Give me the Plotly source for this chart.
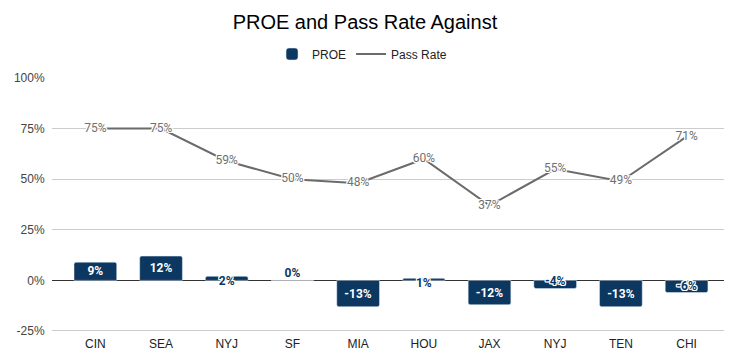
import plotly.graph_objects as go

teams = ["CIN", "SEA", "NYJ", "SF", "MIA", "HOU", "JAX", "NYJ", "TEN", "CHI"]
proe = [9, 12, 2, 0, -13, 1, -12, -4, -13, -6]
pass_rate = [75, 75, 59, 50, 48, 60, 37, 55, 49, 71]
y_ticks = [-25, 0, 25, 50, 75, 100]

x = list(range(len(teams)))
proe_v = [v / 100 for v in proe]
pass_v = [v / 100 for v in pass_rate]

NAVY = "#0b3760"
GRID = "#cccccc"
outline_w = "white 1px 1px 0, white -1px -1px 0, white 1px -1px 0, white -1px 1px 0, white 0 1px 0, white 0 -1px 0, white 1px 0 0, white -1px 0 0"

big = [abs(v) >= 9 for v in proe]
bar_text = [f"{v}%" if b else "" for v, b in zip(proe, big)]

fig = go.Figure()
fig.add_trace(go.Bar(
    x=x, y=proe_v, name="PROE", marker_color=NAVY, width=0.65,
    text=bar_text, textposition="inside", insidetextanchor="middle",
    constraintext="none",
    textfont=dict(color="white", size=12, family="Roboto", weight="bold"),
    marker=dict(cornerradius=2), hoverinfo="skip",
))

# small-bar labels
sx, sy, st, sp = [], [], [], []
for i, (v, b) in enumerate(zip(proe, big)):
    if not b:
        sx.append(i)
        sy.append(v / 100)
        st.append(f"{v}%")
        sp.append("bottom center" if v > 0 else "top center")
fig.add_trace(go.Scatter(
    x=sx, y=sy, mode="text", text=st, textposition=sp, showlegend=False,
    textfont=dict(color=NAVY, size=12, family="Roboto", weight="bold", shadow=outline_w),
    cliponaxis=False, hoverinfo="skip",
))

fig.add_trace(go.Scatter(
    x=x, y=pass_v, name="Pass Rate", mode="lines+text",
    line=dict(color="#6b6b6b", width=2),
    text=[f"{v}%" for v in pass_rate], textposition="middle center",
    textfont=dict(color="#707070", size=12, family="Roboto", shadow=outline_w),
    cliponaxis=False, hoverinfo="skip",
))

W, H = 724, 356
fig.update_layout(
    width=W, height=H,
    margin=dict(l=44, r=6, t=70, b=32, autoexpand=False),
    paper_bgcolor="white", plot_bgcolor="white",
    font=dict(family="Liberation Sans, Arial, sans-serif", size=12, color="#222"),
    title=dict(text="PROE and Pass Rate Against", x=0.493, xanchor="center",
               y=1 - 14 / H, yanchor="middle",
               font=dict(size=20, color="#000", family="Liberation Sans, Arial, sans-serif")),
    legend=dict(orientation="h", x=0.46, xanchor="center", y=1 + 24 / 254, yanchor="middle",
                font=dict(size=12, color="#222"), traceorder="normal", itemwidth=30),
    showlegend=True,
    bargap=0.35,
)
fig.update_xaxes(
    range=[-0.66, 9.6], tickmode="array", tickvals=x, ticktext=teams,
    showgrid=False, zeroline=False, showline=False,
    ticks="outside", ticklen=1, tickcolor="rgba(0,0,0,0)",
    tickfont=dict(size=12, color="#222"),
)
fig.update_yaxes(
    range=[-0.255, 1.0], tickmode="array", tickvals=[v / 100 for v in y_ticks],
    ticktext=[f"{v}%" for v in y_ticks],
    showgrid=True, gridcolor=GRID, gridwidth=1,
    zeroline=True, zerolinecolor="#333", zerolinewidth=1,
    tickfont=dict(size=12, color="#444"),
    ticks="outside", ticklen=4, tickcolor="rgba(0,0,0,0)",
)

fig.write_html("out.html")
